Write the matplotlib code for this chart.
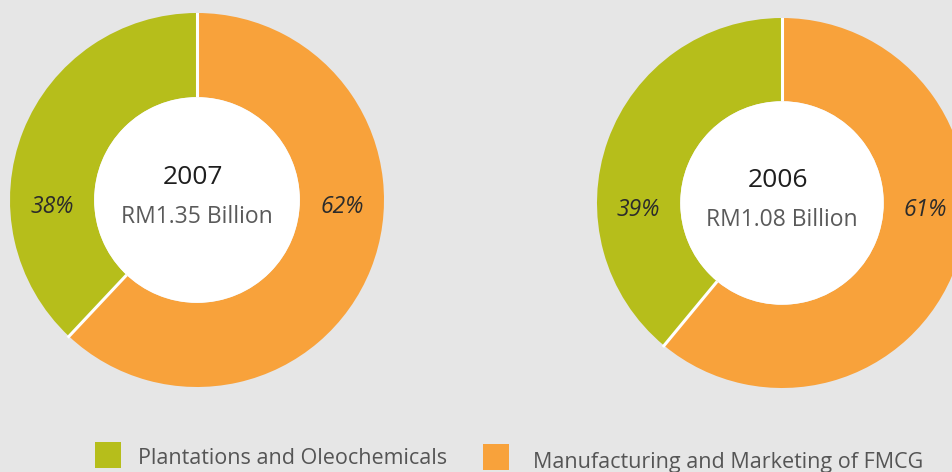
import matplotlib
matplotlib.use("Agg")
import numpy as np
import matplotlib.pyplot as plt
from matplotlib.patches import Circle, Rectangle

years = ["2007", "2006"]
totals = ["RM1.35 Billion", "RM1.08 Billion"]
segments = ["Plantations and Oleochemicals", "Manufacturing and Marketing of FMCG"]
shares = [[38, 62], [39, 61]]
colors = ["#b6be1b", "#f8a23b"]

plt.rcParams["font.family"] = ["Open Sans", "DejaVu Sans"]

W, H = 952, 472
fig = plt.figure(figsize=(W / 100, H / 100), dpi=100)
fig.patch.set_facecolor("#e6e6e6")

# pie centres / radii in pixels (from top-left)
layout = [(197, 200, 187), (782, 203, 185)]
hole = 0.55

for (cx, cy, r), year, total, vals in zip(layout, years, totals, shares):
    ax = fig.add_axes([(cx - r) / W, (H - cy - r) / H, 2 * r / W, 2 * r / H])
    ax.pie(vals, colors=colors, startangle=90, counterclock=True, radius=1,
           wedgeprops=dict(width=1 - hole, edgecolor="none"))
    # white separators at wedge boundaries
    bounds = 90 + 360 * np.cumsum([0] + vals[:-1]) / sum(vals)
    for a in np.radians(bounds):
        ax.plot([hole * np.cos(a), 1.01 * np.cos(a)], [hole * np.sin(a), 1.01 * np.sin(a)],
                color="white", lw=2.2, solid_capstyle="butt", zorder=2)
    ax.add_patch(Circle((0, 0), hole, facecolor="white", edgecolor="none", zorder=3))
    ax.set_xlim(-1, 1); ax.set_ylim(-1, 1); ax.set_aspect("equal"); ax.axis("off")
    mid = (1 + hole) / 2
    ax.text(-mid, -0.04, f"{vals[0]}%", ha="center", va="center", fontsize=16.5,
            style="italic", color="#2b2b2b", zorder=4)
    ax.text(mid, -0.04, f"{vals[1]}%", ha="center", va="center", fontsize=16.5,
            style="italic", color="#2b2b2b", zorder=4)
    ax.text(-0.02, 0.12, year, ha="center", va="center", fontsize=19, color="#1e1e1e", zorder=4)
    ax.text(0, -0.09, total, ha="center", va="center", fontsize=16.5, color="#5a5a5a", zorder=4)

# legend
for (x0, y0, tx, ty), label, c in zip([(95, 442, 138, 456), (483, 444, 533, 460)], segments, colors):
    fig.patches.append(Rectangle((x0 / W, (H - y0 - 26) / H), 26 / W, 26 / H,
                                 transform=fig.transFigure, facecolor=c, edgecolor="none"))
    fig.text(tx / W, (H - ty) / H, label, ha="left", va="center_baseline", fontsize=15.5,
             color="#555555")

fig.savefig("out.png", dpi=100, facecolor=fig.get_facecolor())
